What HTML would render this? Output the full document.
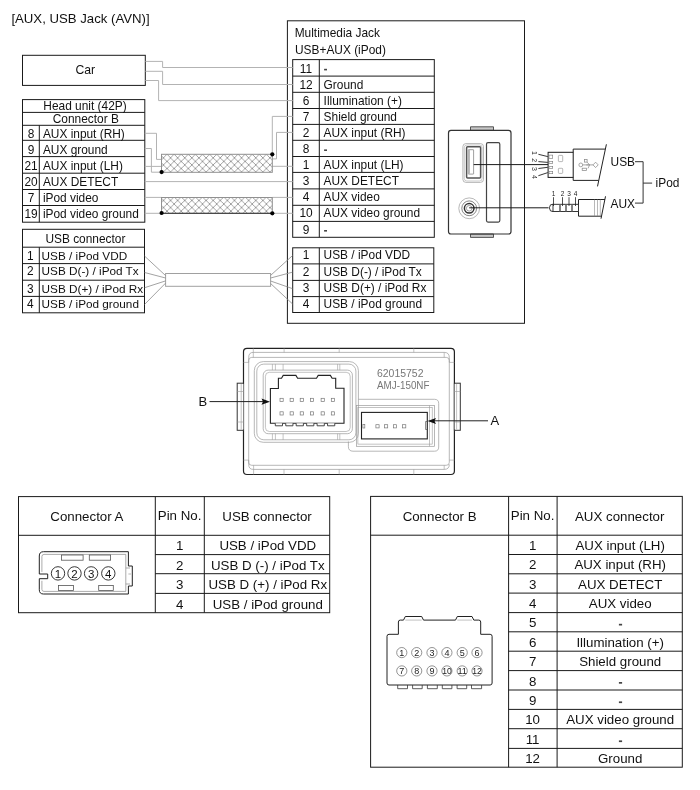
<!DOCTYPE html>
<html><head><meta charset="utf-8"><style>
html,body{margin:0;padding:0;background:#fff;}
svg{display:block;font-family:"Liberation Sans",sans-serif;will-change:transform;}
</style></head><body>
<svg width="700" height="790" viewBox="0 0 700 790">
<rect x="0" y="0" width="700" height="790" fill="#fff"/>
<text x="11.4" y="23.2" font-size="13.2" text-anchor="start" fill="#111" >[AUX, USB Jack (AVN)]</text>
<rect x="22.5" y="55.3" width="122.80" height="30.10" stroke="#1a1a1a" stroke-width="1" fill="none" rx="0"/>
<text x="85.3" y="74.4" font-size="12.2" text-anchor="middle" fill="#111" >Car</text>
<rect x="22.5" y="99.6" width="122.30" height="122.60" stroke="#1a1a1a" stroke-width="1" fill="none" rx="0"/>
<line x1="22.5" y1="112.4" x2="144.8" y2="112.4" stroke="#1a1a1a" stroke-width="1"/>
<line x1="22.5" y1="125.3" x2="144.8" y2="125.3" stroke="#1a1a1a" stroke-width="1"/>
<line x1="22.5" y1="140.3" x2="144.8" y2="140.3" stroke="#1a1a1a" stroke-width="1"/>
<line x1="22.5" y1="156.6" x2="144.8" y2="156.6" stroke="#1a1a1a" stroke-width="1"/>
<line x1="22.5" y1="173.2" x2="144.8" y2="173.2" stroke="#1a1a1a" stroke-width="1"/>
<line x1="22.5" y1="189.5" x2="144.8" y2="189.5" stroke="#1a1a1a" stroke-width="1"/>
<line x1="22.5" y1="205.5" x2="144.8" y2="205.5" stroke="#1a1a1a" stroke-width="1"/>
<line x1="39.3" y1="125.3" x2="39.3" y2="222.2" stroke="#1a1a1a" stroke-width="1"/>
<text x="85.0" y="109.9" font-size="11.9" text-anchor="middle" fill="#111" >Head unit (42P)</text>
<text x="85.8" y="123.4" font-size="11.9" text-anchor="middle" fill="#111" >Connector B</text>
<text x="31" y="137.8" font-size="11.9" text-anchor="middle" fill="#111" >8</text>
<text x="42.9" y="137.8" font-size="11.9" text-anchor="start" fill="#111" >AUX input (RH)</text>
<text x="31" y="153.85000000000002" font-size="11.9" text-anchor="middle" fill="#111" >9</text>
<text x="42.9" y="153.85000000000002" font-size="11.9" text-anchor="start" fill="#111" >AUX ground</text>
<text x="31" y="169.9" font-size="11.9" text-anchor="middle" fill="#111" >21</text>
<text x="42.9" y="169.9" font-size="11.9" text-anchor="start" fill="#111" >AUX input (LH)</text>
<text x="31" y="185.95000000000002" font-size="11.9" text-anchor="middle" fill="#111" >20</text>
<text x="42.9" y="185.95000000000002" font-size="11.9" text-anchor="start" fill="#111" >AUX DETECT</text>
<text x="31" y="202.0" font-size="11.9" text-anchor="middle" fill="#111" >7</text>
<text x="42.9" y="202.0" font-size="11.9" text-anchor="start" fill="#111" >iPod video</text>
<text x="31" y="218.05" font-size="11.9" text-anchor="middle" fill="#111" >19</text>
<text x="42.9" y="218.05" font-size="11.9" text-anchor="start" fill="#111" >iPod video ground</text>
<rect x="22.5" y="229.3" width="122.00" height="83.50" stroke="#1a1a1a" stroke-width="1" fill="none" rx="0"/>
<line x1="22.5" y1="247.2" x2="144.5" y2="247.2" stroke="#1a1a1a" stroke-width="1"/>
<line x1="22.5" y1="263.6" x2="144.5" y2="263.6" stroke="#1a1a1a" stroke-width="1"/>
<line x1="22.5" y1="280.2" x2="144.5" y2="280.2" stroke="#1a1a1a" stroke-width="1"/>
<line x1="22.5" y1="296.4" x2="144.5" y2="296.4" stroke="#1a1a1a" stroke-width="1"/>
<line x1="39.3" y1="247.2" x2="39.3" y2="312.8" stroke="#1a1a1a" stroke-width="1"/>
<text x="85.4" y="242.7" font-size="11.9" text-anchor="middle" fill="#111" >USB connector</text>
<text x="30.2" y="259.9" font-size="11.9" text-anchor="middle" fill="#111" >1</text>
<text x="41.6" y="259.9" font-size="11.75" text-anchor="start" fill="#111" >USB / iPod VDD</text>
<text x="30.2" y="275.3" font-size="11.9" text-anchor="middle" fill="#111" >2</text>
<text x="41.6" y="275.3" font-size="11.75" text-anchor="start" fill="#111" >USB D(-) / iPod Tx</text>
<text x="30.2" y="292.9" font-size="11.9" text-anchor="middle" fill="#111" >3</text>
<text x="41.6" y="292.9" font-size="11.75" text-anchor="start" fill="#111" >USB D(+) / iPod Rx</text>
<text x="30.2" y="308.2" font-size="11.9" text-anchor="middle" fill="#111" >4</text>
<text x="41.6" y="308.2" font-size="11.75" text-anchor="start" fill="#111" >USB / iPod ground</text>
<rect x="287.4" y="20.8" width="237.10" height="302.50" stroke="#1a1a1a" stroke-width="1" fill="none" rx="0"/>
<text x="294.7" y="36.7" font-size="11.9" text-anchor="start" fill="#111" >Multimedia Jack</text>
<text x="295" y="53.9" font-size="11.9" text-anchor="start" fill="#111" >USB+AUX (iPod)</text>
<rect x="292.7" y="59.6" width="141.60" height="177.70" stroke="#1a1a1a" stroke-width="1" fill="none" rx="0"/>
<line x1="292.7" y1="76.1" x2="434.3" y2="76.1" stroke="#1a1a1a" stroke-width="1"/>
<line x1="292.7" y1="92.3" x2="434.3" y2="92.3" stroke="#1a1a1a" stroke-width="1"/>
<line x1="292.7" y1="108.5" x2="434.3" y2="108.5" stroke="#1a1a1a" stroke-width="1"/>
<line x1="292.7" y1="124.4" x2="434.3" y2="124.4" stroke="#1a1a1a" stroke-width="1"/>
<line x1="292.7" y1="140.3" x2="434.3" y2="140.3" stroke="#1a1a1a" stroke-width="1"/>
<line x1="292.7" y1="156.5" x2="434.3" y2="156.5" stroke="#1a1a1a" stroke-width="1"/>
<line x1="292.7" y1="172.4" x2="434.3" y2="172.4" stroke="#1a1a1a" stroke-width="1"/>
<line x1="292.7" y1="188.9" x2="434.3" y2="188.9" stroke="#1a1a1a" stroke-width="1"/>
<line x1="292.7" y1="205.3" x2="434.3" y2="205.3" stroke="#1a1a1a" stroke-width="1"/>
<line x1="292.7" y1="221.4" x2="434.3" y2="221.4" stroke="#1a1a1a" stroke-width="1"/>
<line x1="319.3" y1="59.6" x2="319.3" y2="237.3" stroke="#1a1a1a" stroke-width="1"/>
<text x="306" y="72.6" font-size="11.9" text-anchor="middle" fill="#111" >11</text>
<rect x="324.1" y="68.80" width="2.9" height="1.6" fill="#444"/>
<text x="306" y="88.6" font-size="11.9" text-anchor="middle" fill="#111" >12</text>
<text x="323.6" y="88.6" font-size="11.9" text-anchor="start" fill="#111" >Ground</text>
<text x="306" y="104.8" font-size="11.9" text-anchor="middle" fill="#111" >6</text>
<text x="323.6" y="104.8" font-size="11.9" text-anchor="start" fill="#111" >Illumination (+)</text>
<text x="306" y="121.1" font-size="11.9" text-anchor="middle" fill="#111" >7</text>
<text x="323.6" y="121.1" font-size="11.9" text-anchor="start" fill="#111" >Shield ground</text>
<text x="306" y="137.0" font-size="11.9" text-anchor="middle" fill="#111" >2</text>
<text x="323.6" y="137.0" font-size="11.9" text-anchor="start" fill="#111" >AUX input (RH)</text>
<text x="306" y="153.2" font-size="11.9" text-anchor="middle" fill="#111" >8</text>
<rect x="324.1" y="149.40" width="2.9" height="1.6" fill="#444"/>
<text x="306" y="169.1" font-size="11.9" text-anchor="middle" fill="#111" >1</text>
<text x="323.6" y="169.1" font-size="11.9" text-anchor="start" fill="#111" >AUX input (LH)</text>
<text x="306" y="184.9" font-size="11.9" text-anchor="middle" fill="#111" >3</text>
<text x="323.6" y="184.9" font-size="11.9" text-anchor="start" fill="#111" >AUX DETECT</text>
<text x="306" y="201.2" font-size="11.9" text-anchor="middle" fill="#111" >4</text>
<text x="323.6" y="201.2" font-size="11.9" text-anchor="start" fill="#111" >AUX video</text>
<text x="306" y="216.9" font-size="11.9" text-anchor="middle" fill="#111" >10</text>
<text x="323.6" y="216.9" font-size="11.9" text-anchor="start" fill="#111" >AUX video ground</text>
<text x="306" y="233.8" font-size="11.9" text-anchor="middle" fill="#111" >9</text>
<rect x="324.1" y="230.00" width="2.9" height="1.6" fill="#444"/>
<rect x="292.7" y="247.8" width="141.10" height="64.70" stroke="#1a1a1a" stroke-width="1" fill="none" rx="0"/>
<line x1="292.7" y1="263.9" x2="433.8" y2="263.9" stroke="#1a1a1a" stroke-width="1"/>
<line x1="292.7" y1="280.4" x2="433.8" y2="280.4" stroke="#1a1a1a" stroke-width="1"/>
<line x1="292.7" y1="296.6" x2="433.8" y2="296.6" stroke="#1a1a1a" stroke-width="1"/>
<line x1="319.3" y1="247.8" x2="319.3" y2="312.5" stroke="#1a1a1a" stroke-width="1"/>
<text x="306" y="259.2" font-size="11.9" text-anchor="middle" fill="#111" >1</text>
<text x="323.6" y="259.2" font-size="11.9" text-anchor="start" fill="#111" >USB / iPod VDD</text>
<text x="306" y="276.3" font-size="11.9" text-anchor="middle" fill="#111" >2</text>
<text x="323.6" y="276.3" font-size="11.9" text-anchor="start" fill="#111" >USB D(-) / iPod Tx</text>
<text x="306" y="292.4" font-size="11.9" text-anchor="middle" fill="#111" >3</text>
<text x="323.6" y="292.4" font-size="11.9" text-anchor="start" fill="#111" >USB D(+) / iPod Rx</text>
<text x="306" y="308.0" font-size="11.9" text-anchor="middle" fill="#111" >4</text>
<text x="323.6" y="308.0" font-size="11.9" text-anchor="start" fill="#111" >USB / iPod ground</text>
<polyline points="145.4,61.4 162.6,61.4 162.6,67.5 292.7,67.5" stroke="#b3b3b3" stroke-width="1" fill="none"/>
<polyline points="145.4,71.3 162.6,71.3 162.6,84.5 292.7,84.5" stroke="#b3b3b3" stroke-width="1" fill="none"/>
<polyline points="145.4,80.5 158.6,80.5 158.6,100.6 292.7,100.6" stroke="#b3b3b3" stroke-width="1" fill="none"/>
<polyline points="144.8,133.3 156.5,133.3 156.5,159.4 161.5,159.4" stroke="#b3b3b3" stroke-width="1" fill="none"/>
<polyline points="144.8,148.5 151.4,148.5 151.4,172.2 161.5,172.2" stroke="#b3b3b3" stroke-width="1" fill="none"/>
<line x1="144.8" y1="166.4" x2="161.5" y2="166.4" stroke="#b3b3b3" stroke-width="1"/>
<line x1="144.8" y1="181.6" x2="292.7" y2="181.6" stroke="#b3b3b3" stroke-width="1"/>
<line x1="144.8" y1="197.4" x2="161.5" y2="197.4" stroke="#b3b3b3" stroke-width="1"/>
<line x1="144.8" y1="213.3" x2="161.5" y2="213.3" stroke="#b3b3b3" stroke-width="1"/>
<polyline points="292.7,116.4 272.3,116.4 272.3,154.3" stroke="#b3b3b3" stroke-width="1" fill="none"/>
<polyline points="292.7,132.4 276.5,132.4 276.5,158.9 272.3,158.9" stroke="#b3b3b3" stroke-width="1" fill="none"/>
<line x1="272.3" y1="166.3" x2="292.7" y2="166.3" stroke="#b3b3b3" stroke-width="1"/>
<line x1="272.3" y1="197.4" x2="292.7" y2="197.4" stroke="#b3b3b3" stroke-width="1"/>
<line x1="272.3" y1="213.3" x2="292.7" y2="213.3" stroke="#b3b3b3" stroke-width="1"/>
<defs><pattern id="hatch" patternUnits="userSpaceOnUse" x="195.4" y="154.3" width="7.1" height="7.1"><path d="M-1,-1 L8.1,8.1 M8.1,-1 L-1,8.1" stroke="#8c8c8c" stroke-width="0.8"/></pattern></defs>
<rect x="161.5" y="154.3" width="110.80" height="18.00" fill="url(#hatch)" stroke="#909090" stroke-width="1"/>
<rect x="161.5" y="197.5" width="110.80" height="15.80" fill="url(#hatch)" stroke="#909090" stroke-width="1"/>
<line x1="161.5" y1="213.3" x2="272.3" y2="213.3" stroke="#333" stroke-width="1"/>
<circle cx="161.6" cy="172.1" r="2.1" stroke="none" stroke-width="0" fill="#000"/>
<circle cx="161.6" cy="213.0" r="2.1" stroke="none" stroke-width="0" fill="#000"/>
<circle cx="272.3" cy="154.3" r="2.1" stroke="none" stroke-width="0" fill="#000"/>
<circle cx="272.3" cy="213.3" r="2.1" stroke="none" stroke-width="0" fill="#000"/>
<rect x="165.6" y="273.5" width="105.00" height="12.80" stroke="#a0a0a0" stroke-width="1" fill="none" rx="0"/>
<line x1="144.6" y1="256.1" x2="165.6" y2="275.6" stroke="#8c8c8c" stroke-width="0.8"/>
<line x1="144.6" y1="272.5" x2="165.6" y2="278" stroke="#8c8c8c" stroke-width="0.8"/>
<line x1="144.6" y1="287.7" x2="165.6" y2="280.9" stroke="#8c8c8c" stroke-width="0.8"/>
<line x1="144.6" y1="304.4" x2="165.6" y2="283.1" stroke="#8c8c8c" stroke-width="0.8"/>
<line x1="270.6" y1="275.4" x2="292.4" y2="255.7" stroke="#8c8c8c" stroke-width="0.8"/>
<line x1="270.6" y1="278" x2="292.4" y2="272.2" stroke="#8c8c8c" stroke-width="0.8"/>
<line x1="270.6" y1="281" x2="292.4" y2="288.6" stroke="#8c8c8c" stroke-width="0.8"/>
<line x1="270.6" y1="283.5" x2="292.4" y2="303.8" stroke="#8c8c8c" stroke-width="0.8"/>
<path d="M470.5,130.4 L470.5,126.8 L493.5,126.8 L493.5,130.4 Z" fill="#c8c8c8" stroke="#444" stroke-width="0.9"/>
<path d="M470.5,234 L470.5,237.4 L493.5,237.4 L493.5,234 Z" fill="#c8c8c8" stroke="#444" stroke-width="0.9"/>
<rect x="448.5" y="130.4" width="62.50" height="103.60" stroke="#333" stroke-width="1.2" fill="none" rx="2.5"/>
<rect x="462.9" y="143.6" width="20.60" height="38.80" stroke="#999" stroke-width="0.7" fill="none" rx="3"/>
<rect x="464.3" y="145" width="17.80" height="36.00" stroke="#aaa" stroke-width="0.6" fill="none" rx="2.5"/>
<rect x="466.6" y="146.7" width="14.00" height="31.40" stroke="#555" stroke-width="1.5" fill="none" rx="1"/>
<rect x="468.3" y="149.7" width="5.30" height="24.40" stroke="#777" stroke-width="0.7" fill="none" rx="0.3"/>
<rect x="468.6" y="150" width="1.40" height="23.80" stroke="none" stroke-width="0" fill="#bbb" rx="0"/>
<rect x="486.5" y="142.7" width="13.30" height="79.40" stroke="#444" stroke-width="1.2" fill="none" rx="1.5"/>
<circle cx="469.2" cy="208.3" r="10.4" stroke="#999" stroke-width="0.7" fill="none"/>
<circle cx="469.2" cy="208.3" r="7.4" stroke="#666" stroke-width="0.8" fill="none"/>
<circle cx="469.2" cy="208.3" r="4.8" stroke="#333" stroke-width="1.5" fill="none"/>
<circle cx="469.2" cy="208.3" r="2.8" stroke="#888" stroke-width="0.8" fill="none"/>
<line x1="473.7" y1="164.6" x2="548.1" y2="164.6" stroke="#1a1a1a" stroke-width="1"/>
<line x1="469.2" y1="207.8" x2="548.5" y2="207.8" stroke="#1a1a1a" stroke-width="1"/>
<rect x="548.1" y="152.3" width="25.10" height="25.10" stroke="#1a1a1a" stroke-width="1" fill="#fff" rx="0"/>
<rect x="549" y="155.1" width="3.70" height="3.20" stroke="#777" stroke-width="0.6" fill="none" rx="0"/>
<rect x="549" y="161.3" width="3.70" height="2.30" stroke="#777" stroke-width="0.6" fill="none" rx="0"/>
<rect x="549" y="166.3" width="3.70" height="2.30" stroke="#777" stroke-width="0.6" fill="none" rx="0"/>
<rect x="549" y="171.3" width="3.70" height="2.40" stroke="#777" stroke-width="0.6" fill="none" rx="0"/>
<rect x="558.4" y="155.4" width="4.30" height="6.20" stroke="#888" stroke-width="0.6" fill="none" rx="0.8"/>
<rect x="558.4" y="168.3" width="4.30" height="5.10" stroke="#888" stroke-width="0.6" fill="none" rx="0.8"/>
<path d="M573.2,152.3 L573.2,149.1 L605.2,149.1 M573.2,177.4 L573.2,180.4 L598.6,180.4" fill="none" stroke="#222" stroke-width="1"/>
<line x1="606.4" y1="144.3" x2="597.5" y2="186.4" stroke="#222" stroke-width="1"/>
<g stroke="#8a8a8a" stroke-width="0.75" fill="none"><circle cx="580.8" cy="164.9" r="1.9"/><line x1="582.7" y1="164.9" x2="593" y2="164.9"/><path d="M595.6,162.2 L598.2,164.9 L595.6,167.6 L593,164.9 Z"/><path d="M587.2,162.2 L589.6,164.9 L588,168.4 M586.3,164.9 L589.6,164.9"/><rect x="584.4" y="159.4" width="2.7" height="2.7"/><rect x="582.2" y="168.2" width="4.2" height="2.2"/></g>
<line x1="538.4" y1="154.3" x2="547.8" y2="156.6" stroke="#222" stroke-width="0.9"/>
<line x1="538.4" y1="161.6" x2="547.8" y2="162.4" stroke="#222" stroke-width="0.9"/>
<line x1="538.4" y1="168.5" x2="547.8" y2="167.3" stroke="#222" stroke-width="0.9"/>
<line x1="538.4" y1="175.7" x2="547.8" y2="172.6" stroke="#222" stroke-width="0.9"/>
<text x="0" y="0" font-size="7" text-anchor="middle" fill="#333" transform="translate(531.6,153) rotate(90)">1</text>
<text x="0" y="0" font-size="7" text-anchor="middle" fill="#333" transform="translate(531.6,160.3) rotate(90)">2</text>
<text x="0" y="0" font-size="7" text-anchor="middle" fill="#333" transform="translate(531.6,168.9) rotate(90)">3</text>
<text x="0" y="0" font-size="7" text-anchor="middle" fill="#333" transform="translate(531.6,176.9) rotate(90)">4</text>
<path d="M553,204.3 L550.5,204.8 Q548.2,207.8 550.5,210.9 L553,211.5" fill="#fff" stroke="#222" stroke-width="0.9"/>
<rect x="553" y="204.3" width="25.50" height="7.20" stroke="#222" stroke-width="0.9" fill="#fff" rx="0"/>
<rect x="559.2" y="204.3" width="1.60" height="7.20" stroke="none" stroke-width="0" fill="#666" rx="0"/>
<rect x="565.2" y="204.3" width="1.60" height="7.20" stroke="none" stroke-width="0" fill="#666" rx="0"/>
<rect x="571.2" y="204.3" width="1.60" height="7.20" stroke="none" stroke-width="0" fill="#666" rx="0"/>
<path d="M578.5,204.3 L578.5,199.5 L605,199.5 M578.5,211.5 L578.5,216.2 L601.5,216.2" fill="none" stroke="#222" stroke-width="1"/>
<line x1="605.5" y1="196.3" x2="601" y2="218.7" stroke="#222" stroke-width="1"/>
<line x1="594.5" y1="199.5" x2="594.5" y2="216.2" stroke="#888" stroke-width="0.6"/>
<line x1="597.5" y1="199.5" x2="597.5" y2="216.2" stroke="#888" stroke-width="0.6"/>
<line x1="600.3" y1="199.5" x2="600.3" y2="216.2" stroke="#888" stroke-width="0.6"/>
<text x="553.5" y="195.8" font-size="6.5" text-anchor="middle" fill="#222" >1</text>
<line x1="553.5" y1="197.2" x2="553.5" y2="206" stroke="#222" stroke-width="0.8"/>
<text x="562.5" y="195.8" font-size="6.5" text-anchor="middle" fill="#222" >2</text>
<line x1="562.5" y1="197.2" x2="562.5" y2="206" stroke="#222" stroke-width="0.8"/>
<text x="569" y="195.8" font-size="6.5" text-anchor="middle" fill="#222" >3</text>
<line x1="569" y1="197.2" x2="569" y2="206" stroke="#222" stroke-width="0.8"/>
<text x="575.5" y="195.8" font-size="6.5" text-anchor="middle" fill="#222" >4</text>
<line x1="575.5" y1="197.2" x2="575.5" y2="206" stroke="#222" stroke-width="0.8"/>
<text x="610.6" y="165.7" font-size="11.9" text-anchor="start" fill="#111" >USB</text>
<text x="610.6" y="207.8" font-size="11.9" text-anchor="start" fill="#111" >AUX</text>
<text x="655.6" y="187" font-size="11.9" text-anchor="start" fill="#111" >iPod</text>
<polyline points="635,161.7 643.1,161.7 643.1,203.1 635,203.1" stroke="#333" stroke-width="1" fill="none"/>
<line x1="643.1" y1="183.1" x2="652.1" y2="183.1" stroke="#333" stroke-width="1"/>
<rect x="243.5" y="348.3" width="210.90" height="126.20" stroke="#222" stroke-width="1.2" fill="#fff" rx="3.5"/>
<rect x="237.2" y="383.2" width="6.30" height="47.10" stroke="#333" stroke-width="1" fill="#fff" rx="0"/>
<line x1="243.5" y1="384" x2="243.5" y2="429.5" stroke="#999" stroke-width="0.8"/>
<line x1="241.2" y1="384" x2="241.2" y2="429.5" stroke="#9a9a9a" stroke-width="0.6"/>
<rect x="454.4" y="383.2" width="5.90" height="47.10" stroke="#333" stroke-width="1" fill="#fff" rx="0"/>
<line x1="454.4" y1="384" x2="454.4" y2="429.5" stroke="#999" stroke-width="0.8"/>
<line x1="456.6" y1="384" x2="456.6" y2="429.5" stroke="#9a9a9a" stroke-width="0.6"/>
<line x1="454.4" y1="391.5" x2="460.3" y2="391.5" stroke="#9a9a9a" stroke-width="0.6"/>
<line x1="454.4" y1="422" x2="460.3" y2="422" stroke="#9a9a9a" stroke-width="0.6"/>
<line x1="237.2" y1="391.5" x2="243.5" y2="391.5" stroke="#9a9a9a" stroke-width="0.6"/>
<line x1="237.2" y1="422" x2="243.5" y2="422" stroke="#9a9a9a" stroke-width="0.6"/>
<path d="M253.2,352.4 L444.2,352.4 Q449.3,352.4 449.3,357.4 L449.3,362.4" fill="none" stroke="#9a9a9a" stroke-width="0.7"/>
<path d="M248.7,362.4 L248.7,357.4 Q248.7,352.4 253.2,352.4" fill="none" stroke="#9a9a9a" stroke-width="0.7"/>
<rect x="248.7" y="357.4" width="200.60" height="107.90" stroke="#9a9a9a" stroke-width="0.7" fill="none" rx="3"/>
<path d="M253.2,469.4 L444.2,469.4 Q449.3,469.4 449.3,464.4 M248.7,460.1 L248.7,464.4 Q248.7,469.4 253.2,469.4" fill="none" stroke="#9a9a9a" stroke-width="0.7"/>
<line x1="243.5" y1="362.4" x2="248.7" y2="362.4" stroke="#9a9a9a" stroke-width="0.6"/>
<line x1="449.3" y1="362.4" x2="454.4" y2="362.4" stroke="#9a9a9a" stroke-width="0.6"/>
<line x1="243.5" y1="460.1" x2="248.7" y2="460.1" stroke="#9a9a9a" stroke-width="0.6"/>
<line x1="449.3" y1="460.1" x2="454.4" y2="460.1" stroke="#9a9a9a" stroke-width="0.6"/>
<line x1="253.3" y1="348.3" x2="253.3" y2="352.4" stroke="#9a9a9a" stroke-width="0.6"/>
<line x1="284.1" y1="348.3" x2="284.1" y2="352.4" stroke="#9a9a9a" stroke-width="0.6"/>
<line x1="339.2" y1="348.3" x2="339.2" y2="352.4" stroke="#9a9a9a" stroke-width="0.6"/>
<line x1="413.8" y1="348.3" x2="413.8" y2="352.4" stroke="#9a9a9a" stroke-width="0.6"/>
<line x1="253.6" y1="469.4" x2="253.6" y2="474.5" stroke="#9a9a9a" stroke-width="0.6"/>
<line x1="284" y1="469.4" x2="284" y2="474.5" stroke="#9a9a9a" stroke-width="0.6"/>
<line x1="339.2" y1="469.4" x2="339.2" y2="474.5" stroke="#9a9a9a" stroke-width="0.6"/>
<line x1="413.8" y1="469.4" x2="413.8" y2="474.5" stroke="#9a9a9a" stroke-width="0.6"/>
<line x1="253.3" y1="352.4" x2="253.3" y2="357.4" stroke="#9a9a9a" stroke-width="0.6"/>
<line x1="444.2" y1="352.4" x2="444.2" y2="357.4" stroke="#9a9a9a" stroke-width="0.6"/>
<line x1="253.6" y1="465.3" x2="253.6" y2="469.4" stroke="#9a9a9a" stroke-width="0.6"/>
<line x1="444.2" y1="465.3" x2="444.2" y2="469.4" stroke="#9a9a9a" stroke-width="0.6"/>
<rect x="254.3" y="361.6" width="104.10" height="80.70" stroke="#9a9a9a" stroke-width="0.7" fill="none" rx="9"/>
<rect x="256.8" y="364.1" width="99.10" height="75.70" stroke="#9a9a9a" stroke-width="0.7" fill="none" rx="7"/>
<rect x="263.2" y="370.1" width="89.20" height="63.60" stroke="#9a9a9a" stroke-width="0.7" fill="none" rx="5"/>
<rect x="265.4" y="372.3" width="84.80" height="59.20" stroke="#9a9a9a" stroke-width="0.6" fill="none" rx="4"/>
<line x1="272.4" y1="364.1" x2="272.4" y2="370.1" stroke="#9a9a9a" stroke-width="0.6"/>
<line x1="272.4" y1="433.7" x2="272.4" y2="439.8" stroke="#9a9a9a" stroke-width="0.6"/>
<line x1="275.4" y1="364.1" x2="275.4" y2="370.1" stroke="#9a9a9a" stroke-width="0.6"/>
<line x1="275.4" y1="433.7" x2="275.4" y2="439.8" stroke="#9a9a9a" stroke-width="0.6"/>
<line x1="283.1" y1="364.1" x2="283.1" y2="370.1" stroke="#9a9a9a" stroke-width="0.6"/>
<line x1="283.1" y1="433.7" x2="283.1" y2="439.8" stroke="#9a9a9a" stroke-width="0.6"/>
<line x1="337.6" y1="364.1" x2="337.6" y2="370.1" stroke="#9a9a9a" stroke-width="0.6"/>
<line x1="337.6" y1="433.7" x2="337.6" y2="439.8" stroke="#9a9a9a" stroke-width="0.6"/>
<line x1="339.8" y1="364.1" x2="339.8" y2="370.1" stroke="#9a9a9a" stroke-width="0.6"/>
<line x1="339.8" y1="433.7" x2="339.8" y2="439.8" stroke="#9a9a9a" stroke-width="0.6"/>
<path d="M270.4,423.3 L270.4,388.5 L278.4,388.5 L278.4,378.3 L281.5,378.3 L283.2,375.4 L295.9,375.4 L297.6,378.3 L316.5,378.3 L318.2,375.4 L330.4,375.4 L332.1,378.3 L335.7,378.3 L335.7,388.3 L344,388.3 L344,423.3 Z" fill="#fff" stroke="#222" stroke-width="1.1"/>
<path d="M275.30,423.3 L275.30,425.8 L282.50,425.8 L282.50,423.3" fill="#fff" stroke="#333" stroke-width="0.9"/>
<path d="M285.75,423.3 L285.75,425.8 L292.95,425.8 L292.95,423.3" fill="#fff" stroke="#333" stroke-width="0.9"/>
<path d="M296.20,423.3 L296.20,425.8 L303.40,425.8 L303.40,423.3" fill="#fff" stroke="#333" stroke-width="0.9"/>
<path d="M306.65,423.3 L306.65,425.8 L313.85,425.8 L313.85,423.3" fill="#fff" stroke="#333" stroke-width="0.9"/>
<path d="M317.10,423.3 L317.10,425.8 L324.30,425.8 L324.30,423.3" fill="#fff" stroke="#333" stroke-width="0.9"/>
<path d="M327.55,423.3 L327.55,425.8 L334.75,425.8 L334.75,423.3" fill="#fff" stroke="#333" stroke-width="0.9"/>
<rect x="280.0" y="398.29999999999995" width="3.20" height="3.20" stroke="#777" stroke-width="0.7" fill="none" rx="0"/>
<rect x="280.0" y="411.79999999999995" width="3.20" height="3.20" stroke="#777" stroke-width="0.7" fill="none" rx="0"/>
<rect x="290.09999999999997" y="398.29999999999995" width="3.20" height="3.20" stroke="#777" stroke-width="0.7" fill="none" rx="0"/>
<rect x="290.09999999999997" y="411.79999999999995" width="3.20" height="3.20" stroke="#777" stroke-width="0.7" fill="none" rx="0"/>
<rect x="300.2" y="398.29999999999995" width="3.20" height="3.20" stroke="#777" stroke-width="0.7" fill="none" rx="0"/>
<rect x="300.2" y="411.79999999999995" width="3.20" height="3.20" stroke="#777" stroke-width="0.7" fill="none" rx="0"/>
<rect x="310.4" y="398.29999999999995" width="3.20" height="3.20" stroke="#777" stroke-width="0.7" fill="none" rx="0"/>
<rect x="310.4" y="411.79999999999995" width="3.20" height="3.20" stroke="#777" stroke-width="0.7" fill="none" rx="0"/>
<rect x="321.09999999999997" y="398.29999999999995" width="3.20" height="3.20" stroke="#777" stroke-width="0.7" fill="none" rx="0"/>
<rect x="321.09999999999997" y="411.79999999999995" width="3.20" height="3.20" stroke="#777" stroke-width="0.7" fill="none" rx="0"/>
<rect x="331.29999999999995" y="398.29999999999995" width="3.20" height="3.20" stroke="#777" stroke-width="0.7" fill="none" rx="0"/>
<rect x="331.29999999999995" y="411.79999999999995" width="3.20" height="3.20" stroke="#777" stroke-width="0.7" fill="none" rx="0"/>
<path d="M358.4,399.3 L434.5,399.3 Q438.7,399.3 438.7,403.5 L438.7,447 Q438.7,451.2 434.5,451.2 L353,451.2 Q348.4,451.2 348.4,446.6 L348.4,441.5" fill="none" stroke="#9a9a9a" stroke-width="0.7"/>
<rect x="356.4" y="405.5" width="78.20" height="40.80" stroke="#9a9a9a" stroke-width="0.7" fill="none" rx="0"/>
<rect x="357.9" y="407.3" width="74.30" height="36.80" stroke="#9a9a9a" stroke-width="0.6" fill="none" rx="0"/>
<rect x="361.5" y="412.4" width="65.80" height="26.50" stroke="#222" stroke-width="1.1" fill="#fff" rx="0"/>
<line x1="429.5" y1="405.5" x2="429.5" y2="446.3" stroke="#9a9a9a" stroke-width="0.6"/>
<rect x="362.9" y="424.6" width="1.90" height="3.40" stroke="#777" stroke-width="0.7" fill="none" rx="0"/>
<rect x="375.9" y="424.7" width="3.20" height="3.20" stroke="#777" stroke-width="0.7" fill="none" rx="0"/>
<rect x="384.5" y="424.7" width="3.20" height="3.20" stroke="#777" stroke-width="0.7" fill="none" rx="0"/>
<rect x="393.4" y="424.7" width="3.20" height="3.20" stroke="#777" stroke-width="0.7" fill="none" rx="0"/>
<rect x="402.59999999999997" y="424.7" width="3.20" height="3.20" stroke="#777" stroke-width="0.7" fill="none" rx="0"/>
<path d="M427.3,421.5 L425.6,421.5 L425.6,429.5 L427.3,429.5" fill="none" stroke="#555" stroke-width="0.7"/>
<text x="377" y="376.8" font-size="10" text-anchor="start" fill="#777" textLength="46.5" lengthAdjust="spacingAndGlyphs">62015752</text>
<text x="377" y="388.5" font-size="10" text-anchor="start" fill="#777" textLength="52.5" lengthAdjust="spacingAndGlyphs">AMJ-150NF</text>
<line x1="209.5" y1="401.6" x2="265" y2="401.6" stroke="#222" stroke-width="1"/>
<path d="M270,401.7 L261.5,398.6 L263,401.7 L261.5,404.8 Z" fill="#111"/>
<line x1="432" y1="420.8" x2="488" y2="420.8" stroke="#222" stroke-width="1"/>
<path d="M427.6,421 L436,417.9 L434.5,421 L436,424.1 Z" fill="#111"/>
<text x="198.6" y="406.1" font-size="13" text-anchor="start" fill="#111" >B</text>
<text x="490.5" y="425.2" font-size="13" text-anchor="start" fill="#111" >A</text>
<rect x="18.5" y="496.6" width="311.20" height="116.10" stroke="#1a1a1a" stroke-width="1" fill="none" rx="0"/>
<line x1="18.5" y1="535.3" x2="329.7" y2="535.3" stroke="#1a1a1a" stroke-width="1"/>
<line x1="155.3" y1="496.6" x2="155.3" y2="612.7" stroke="#1a1a1a" stroke-width="1"/>
<line x1="204.3" y1="496.6" x2="204.3" y2="612.7" stroke="#1a1a1a" stroke-width="1"/>
<line x1="155.3" y1="554.6" x2="329.7" y2="554.6" stroke="#1a1a1a" stroke-width="1"/>
<line x1="155.3" y1="573.7" x2="329.7" y2="573.7" stroke="#1a1a1a" stroke-width="1"/>
<line x1="155.3" y1="593.4" x2="329.7" y2="593.4" stroke="#1a1a1a" stroke-width="1"/>
<text x="86.9" y="520.8" font-size="13.3" text-anchor="middle" fill="#111" >Connector A</text>
<text x="179.6" y="520.1" font-size="13.3" text-anchor="middle" fill="#111" >Pin No.</text>
<text x="267" y="520.5" font-size="13.3" text-anchor="middle" fill="#111" >USB connector</text>
<text x="179.8" y="550.1" font-size="13.3" text-anchor="middle" fill="#111" >1</text>
<text x="267.8" y="550.1" font-size="13.3" text-anchor="middle" fill="#111" >USB / iPod VDD</text>
<text x="179.8" y="569.7" font-size="13.3" text-anchor="middle" fill="#111" >2</text>
<text x="267.8" y="569.7" font-size="13.3" text-anchor="middle" fill="#111" >USB D (-) / iPod Tx</text>
<text x="179.8" y="589.3" font-size="13.3" text-anchor="middle" fill="#111" >3</text>
<text x="267.8" y="589.3" font-size="13.3" text-anchor="middle" fill="#111" >USB D (+) / iPod Rx</text>
<text x="179.8" y="608.9" font-size="13.3" text-anchor="middle" fill="#111" >4</text>
<text x="267.8" y="608.9" font-size="13.3" text-anchor="middle" fill="#111" >USB / iPod ground</text>
<path d="M43.5,551.7 L128.4,551.7 L128.4,566 L132.3,566 L132.3,586 L128.4,586 L128.4,594 L43.5,594 Q39.3,594 39.3,589.8 L39.3,578.7 L47.7,578.7 L47.7,574 L39.3,574 L39.3,556 Q39.3,551.7 43.5,551.7 Z" fill="#fff" stroke="#222" stroke-width="1"/>
<path d="M44,554.4 L125.8,554.4 L125.8,591.4 L44,591.4 Q41.9,591.4 41.9,589.3 L41.9,580.8 M41.9,571.9 L41.9,556.5 Q41.9,554.4 44,554.4" fill="none" stroke="#888" stroke-width="0.7"/>
<line x1="125.8" y1="568" x2="130" y2="568" stroke="#888" stroke-width="0.7"/>
<line x1="125.8" y1="584" x2="130" y2="584" stroke="#888" stroke-width="0.7"/>
<line x1="128.4" y1="574" x2="131" y2="574" stroke="#888" stroke-width="0.6"/>
<rect x="61.4" y="555" width="21.70" height="5.20" stroke="#555" stroke-width="0.8" fill="none" rx="0"/>
<rect x="89.3" y="555" width="21.30" height="5.20" stroke="#555" stroke-width="0.8" fill="none" rx="0"/>
<rect x="58.5" y="585.5" width="15.00" height="5.10" stroke="#555" stroke-width="0.8" fill="none" rx="0"/>
<rect x="98.7" y="585.5" width="14.60" height="5.10" stroke="#555" stroke-width="0.8" fill="none" rx="0"/>
<circle cx="58" cy="573.4" r="6.7" stroke="#222" stroke-width="0.9" fill="none"/>
<text x="58" y="577.6" font-size="11.5" text-anchor="middle" fill="#111" >1</text>
<circle cx="74.5" cy="573.4" r="6.7" stroke="#222" stroke-width="0.9" fill="none"/>
<text x="74.5" y="577.6" font-size="11.5" text-anchor="middle" fill="#111" >2</text>
<circle cx="91.1" cy="573.4" r="6.7" stroke="#222" stroke-width="0.9" fill="none"/>
<text x="91.1" y="577.6" font-size="11.5" text-anchor="middle" fill="#111" >3</text>
<circle cx="108.3" cy="573.4" r="6.7" stroke="#222" stroke-width="0.9" fill="none"/>
<text x="108.3" y="577.6" font-size="11.5" text-anchor="middle" fill="#111" >4</text>
<rect x="370.6" y="496.4" width="311.70" height="270.80" stroke="#1a1a1a" stroke-width="1" fill="none" rx="0"/>
<line x1="370.6" y1="535.2" x2="682.3" y2="535.2" stroke="#1a1a1a" stroke-width="1"/>
<line x1="508.6" y1="496.4" x2="508.6" y2="767.2" stroke="#1a1a1a" stroke-width="1"/>
<line x1="557.1" y1="496.4" x2="557.1" y2="767.2" stroke="#1a1a1a" stroke-width="1"/>
<line x1="508.6" y1="554.5" x2="682.3" y2="554.5" stroke="#1a1a1a" stroke-width="1"/>
<line x1="508.6" y1="573.8" x2="682.3" y2="573.8" stroke="#1a1a1a" stroke-width="1"/>
<line x1="508.6" y1="593.1" x2="682.3" y2="593.1" stroke="#1a1a1a" stroke-width="1"/>
<line x1="508.6" y1="612.6" x2="682.3" y2="612.6" stroke="#1a1a1a" stroke-width="1"/>
<line x1="508.6" y1="631.8" x2="682.3" y2="631.8" stroke="#1a1a1a" stroke-width="1"/>
<line x1="508.6" y1="651.2" x2="682.3" y2="651.2" stroke="#1a1a1a" stroke-width="1"/>
<line x1="508.6" y1="670.6" x2="682.3" y2="670.6" stroke="#1a1a1a" stroke-width="1"/>
<line x1="508.6" y1="690" x2="682.3" y2="690" stroke="#1a1a1a" stroke-width="1"/>
<line x1="508.6" y1="709.4" x2="682.3" y2="709.4" stroke="#1a1a1a" stroke-width="1"/>
<line x1="508.6" y1="728.7" x2="682.3" y2="728.7" stroke="#1a1a1a" stroke-width="1"/>
<line x1="508.6" y1="748.4" x2="682.3" y2="748.4" stroke="#1a1a1a" stroke-width="1"/>
<text x="439.6" y="520.8" font-size="13.3" text-anchor="middle" fill="#111" >Connector B</text>
<text x="532.6" y="520.1" font-size="13.3" text-anchor="middle" fill="#111" >Pin No.</text>
<text x="619.7" y="520.5" font-size="13.3" text-anchor="middle" fill="#111" >AUX connector</text>
<text x="532.6" y="550.0" font-size="13.3" text-anchor="middle" fill="#111" >1</text>
<text x="620.2" y="550.0" font-size="13.3" text-anchor="middle" fill="#111" >AUX input (LH)</text>
<text x="532.6" y="569.3" font-size="13.3" text-anchor="middle" fill="#111" >2</text>
<text x="620.2" y="569.3" font-size="13.3" text-anchor="middle" fill="#111" >AUX input (RH)</text>
<text x="532.6" y="588.6" font-size="13.3" text-anchor="middle" fill="#111" >3</text>
<text x="620.2" y="588.6" font-size="13.3" text-anchor="middle" fill="#111" >AUX DETECT</text>
<text x="532.6" y="608.1" font-size="13.3" text-anchor="middle" fill="#111" >4</text>
<text x="620.2" y="608.1" font-size="13.3" text-anchor="middle" fill="#111" >AUX video</text>
<text x="532.6" y="627.3" font-size="13.3" text-anchor="middle" fill="#111" >5</text>
<rect x="618.9" y="623.80" width="3.2" height="1.7" fill="#444"/>
<text x="532.6" y="646.7" font-size="13.3" text-anchor="middle" fill="#111" >6</text>
<text x="620.2" y="646.7" font-size="13.3" text-anchor="middle" fill="#111" >Illumination (+)</text>
<text x="532.6" y="666.1" font-size="13.3" text-anchor="middle" fill="#111" >7</text>
<text x="620.2" y="666.1" font-size="13.3" text-anchor="middle" fill="#111" >Shield ground</text>
<text x="532.6" y="685.5" font-size="13.3" text-anchor="middle" fill="#111" >8</text>
<rect x="618.9" y="682.00" width="3.2" height="1.7" fill="#444"/>
<text x="532.6" y="704.9" font-size="13.3" text-anchor="middle" fill="#111" >9</text>
<rect x="618.9" y="701.40" width="3.2" height="1.7" fill="#444"/>
<text x="532.6" y="724.2" font-size="13.3" text-anchor="middle" fill="#111" >10</text>
<text x="620.2" y="724.2" font-size="13.3" text-anchor="middle" fill="#111" >AUX video ground</text>
<text x="532.6" y="743.9" font-size="13.3" text-anchor="middle" fill="#111" >11</text>
<rect x="618.9" y="740.40" width="3.2" height="1.7" fill="#444"/>
<text x="532.6" y="762.7" font-size="13.3" text-anchor="middle" fill="#111" >12</text>
<text x="620.2" y="762.7" font-size="13.3" text-anchor="middle" fill="#111" >Ground</text>
<path d="M389,685 Q387,685 387,683 L387,636.3 Q387,634.3 389,634.3 L398.4,634.3 L398.4,622 Q398.4,620.1 400.3,620.1 L403.5,620.1 L405.3,616.5 L421.7,616.5 L423.5,620.1 L455.5,620.1 L457.3,616.5 L472,616.5 L473.8,620.1 L478.8,620.1 Q480.7,620.1 480.7,622 L480.7,634.3 L490.1,634.3 Q492.1,634.3 492.1,636.3 L492.1,683 Q492.1,685 490.1,685 Z" fill="#fff" stroke="#222" stroke-width="1"/>
<line x1="405.3" y1="620.1" x2="421.7" y2="620.1" stroke="#999" stroke-width="0.6"/>
<line x1="457.3" y1="620.1" x2="472" y2="620.1" stroke="#999" stroke-width="0.6"/>
<path d="M397.7,685 L397.7,688.7 L407.5,688.7 L407.5,685" fill="none" stroke="#333" stroke-width="0.8"/>
<path d="M412.6,685 L412.6,688.7 L422.2,688.7 L422.2,685" fill="none" stroke="#333" stroke-width="0.8"/>
<path d="M427.4,685 L427.4,688.7 L437.3,688.7 L437.3,685" fill="none" stroke="#333" stroke-width="0.8"/>
<path d="M442.3,685 L442.3,688.7 L451.9,688.7 L451.9,685" fill="none" stroke="#333" stroke-width="0.8"/>
<path d="M457.1,685 L457.1,688.7 L466.7,688.7 L466.7,685" fill="none" stroke="#333" stroke-width="0.8"/>
<path d="M471.5,685 L471.5,688.7 L481.6,688.7 L481.6,685" fill="none" stroke="#333" stroke-width="0.8"/>
<circle cx="401.8" cy="652.6" r="5.1" stroke="#666" stroke-width="0.7" fill="none"/>
<text x="401.8" y="655.9" font-size="9" text-anchor="middle" fill="#222" >1</text>
<circle cx="401.8" cy="670.9" r="5.1" stroke="#666" stroke-width="0.7" fill="none"/>
<text x="401.8" y="674.1999999999999" font-size="9" text-anchor="middle" fill="#222" >7</text>
<circle cx="416.7" cy="652.6" r="5.1" stroke="#666" stroke-width="0.7" fill="none"/>
<text x="416.7" y="655.9" font-size="9" text-anchor="middle" fill="#222" >2</text>
<circle cx="416.7" cy="670.9" r="5.1" stroke="#666" stroke-width="0.7" fill="none"/>
<text x="416.7" y="674.1999999999999" font-size="9" text-anchor="middle" fill="#222" >8</text>
<circle cx="432" cy="652.6" r="5.1" stroke="#666" stroke-width="0.7" fill="none"/>
<text x="432" y="655.9" font-size="9" text-anchor="middle" fill="#222" >3</text>
<circle cx="432" cy="670.9" r="5.1" stroke="#666" stroke-width="0.7" fill="none"/>
<text x="432" y="674.1999999999999" font-size="9" text-anchor="middle" fill="#222" >9</text>
<circle cx="446.9" cy="652.6" r="5.1" stroke="#666" stroke-width="0.7" fill="none"/>
<text x="446.9" y="655.9" font-size="9" text-anchor="middle" fill="#222" >4</text>
<circle cx="446.9" cy="670.9" r="5.1" stroke="#666" stroke-width="0.7" fill="none"/>
<text x="446.9" y="674.1999999999999" font-size="8.5" text-anchor="middle" fill="#222" textLength="9.5" lengthAdjust="spacingAndGlyphs">10</text>
<circle cx="462.2" cy="652.6" r="5.1" stroke="#666" stroke-width="0.7" fill="none"/>
<text x="462.2" y="655.9" font-size="9" text-anchor="middle" fill="#222" >5</text>
<circle cx="462.2" cy="670.9" r="5.1" stroke="#666" stroke-width="0.7" fill="none"/>
<text x="462.2" y="674.1999999999999" font-size="8.5" text-anchor="middle" fill="#222" textLength="9.5" lengthAdjust="spacingAndGlyphs">11</text>
<circle cx="477" cy="652.6" r="5.1" stroke="#666" stroke-width="0.7" fill="none"/>
<text x="477" y="655.9" font-size="9" text-anchor="middle" fill="#222" >6</text>
<circle cx="477" cy="670.9" r="5.1" stroke="#666" stroke-width="0.7" fill="none"/>
<text x="477" y="674.1999999999999" font-size="8.5" text-anchor="middle" fill="#222" textLength="9.5" lengthAdjust="spacingAndGlyphs">12</text>
</svg></body></html>
